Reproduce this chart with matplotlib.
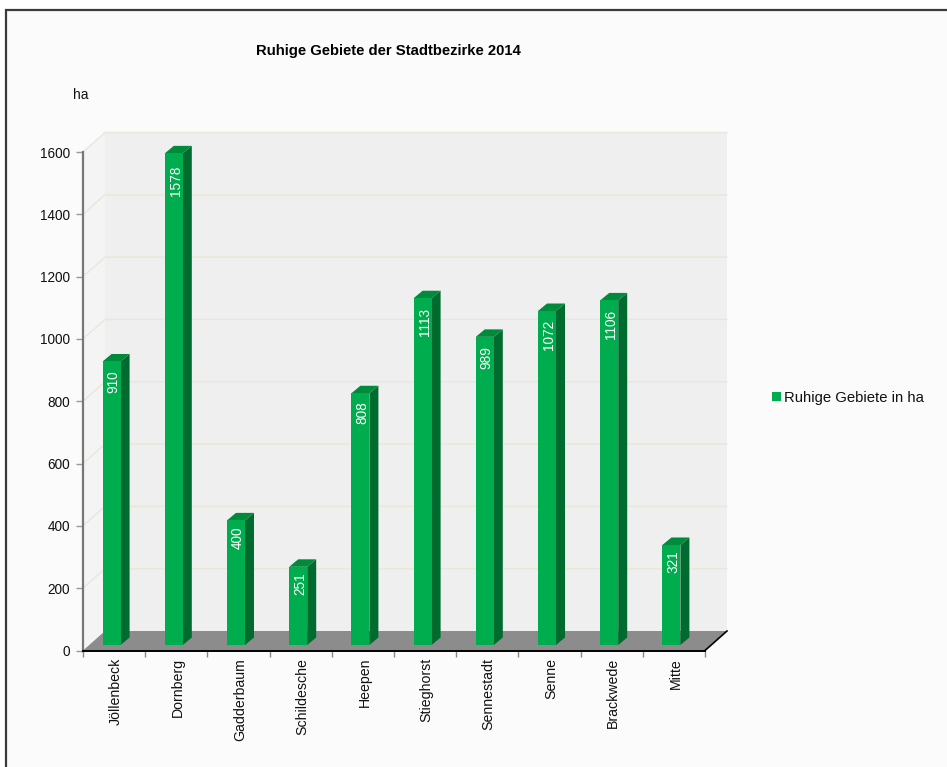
import matplotlib
matplotlib.use('Agg')
import matplotlib.pyplot as plt
from matplotlib.patches import Polygon, Patch, Rectangle

plt.rcParams['font.family'] = ['Liberation Sans', 'DejaVu Sans']

# data
districts = ['Jöllenbeck', 'Dornberg', 'Gadderbaum', 'Schildesche', 'Heepen',
             'Stieghorst', 'Sennestadt', 'Senne', 'Brackwede', 'Mitte']
hectares = [910, 1578, 400, 251, 808, 1113, 989, 1072, 1106, 321]
y_ticks = [0, 200, 400, 600, 800, 1000, 1200, 1400, 1600]
title_text = 'Ruhige Gebiete der Stadtbezirke 2014'
unit_text = 'ha'
legend_text = 'Ruhige Gebiete in ha'

W, H = 947, 767
fig = plt.figure(figsize=(W / 100, H / 100), dpi=100, facecolor='white')

# page frame
fig.add_artist(Rectangle((6 / W, -0.01), 1.02, 1 - 9.5 / H + 0.01, transform=fig.transFigure,
                         facecolor='#fbfbfb', edgecolor='#3a3a3a', linewidth=1.6, zorder=-1))

# front plane of the plot in pixels
left, right, top, bottom = 83, 705, 152, 650.5
ax = fig.add_axes([left / W, 1 - bottom / H, (right - left) / W, (bottom - top) / H])
ax.set_xlim(0, 10)
ax.set_ylim(0, 1600)
ax.patch.set_visible(False)

px_x = 10 / (right - left)   # data units per pixel
px_y = 1600 / (bottom - top)
DEPTH_X, DEPTH_Y = 22, 19.5  # full depth of the box in pixels


def proj(x, y, depth):
    # x,y at a given depth (0 front, 1 back) into data coordinates
    return x + depth * DEPTH_X * px_x, y + depth * DEPTH_Y * px_y


def poly(points, color, z):
    ax.add_patch(Polygon(points, closed=True, facecolor=color, edgecolor='none',
                         clip_on=False, zorder=z))


# walls and floor
wall = '#efefef'
poly([proj(0, 0, 1), proj(10, 0, 1), proj(10, 1600, 1), proj(0, 1600, 1)], wall, 1)
poly([proj(0, 0, 0), proj(0, 0, 1), proj(0, 1600, 1), proj(0, 1600, 0)], '#f4f4f4', 1)
poly([proj(0, 0, 0), proj(10, 0, 0), proj(10, 0, 1), proj(0, 0, 1)], '#8c8c8c', 2)

# gridlines on the back and side wall
grid = '#e9e7d8'
for v in y_ticks[1:]:
    xs, ys = zip(proj(0, v, 0), proj(0, v, 1), proj(10, v, 1))
    ax.plot(xs, ys, color=grid, lw=1, clip_on=False, zorder=1.5)

# edge of the floor on the right
xs, ys = zip(proj(10, 0, 0), proj(10, 0, 1))
ax.plot(xs, ys, color='black', lw=1.2, clip_on=False, zorder=3)

# bars
positions = [i + 0.5 for i in range(len(districts))]
bar_w = 18 * px_x
shift = -2.5 * px_x       # front face sits slightly left of the category centre
base = 5.5 * px_y
bar_dx, bar_dy = 9 * px_x, 7.5 * px_y
lefts = [p + shift - bar_w / 2 for p in positions]

ax.bar([p + shift for p in positions], hectares, width=bar_w, bottom=base,
       color='#00ad4e', zorder=5)
for x0, v in zip(lefts, hectares):
    t = base + v
    x1 = x0 + bar_w
    poly([(x1, base), (x1 + bar_dx, base + bar_dy), (x1 + bar_dx, t + bar_dy), (x1, t)], '#006b2e', 4)
    poly([(x0, t), (x0 + bar_dx, t + bar_dy), (x1 + bar_dx, t + bar_dy), (x1, t)], '#008a3c', 4)
    # value label hangs lower on the taller bars
    ax.text(x0 + bar_w / 2 + 2 * px_x, t - (4 + 0.005 * v) * px_y, str(v), rotation=90, ha='center',
            va='top', color='white', fontsize=9.8, zorder=6)

# axes
for s in ['top', 'right']:
    ax.spines[s].set_visible(False)
ax.spines['left'].set_color('#777777')
ax.spines['left'].set_linewidth(1.6)
ax.spines['bottom'].set_color('black')
ax.spines['bottom'].set_linewidth(1.4)
ax.spines['left'].set_zorder(3)
ax.spines['bottom'].set_zorder(3)

ax.set_yticks(y_ticks)
ax.set_yticklabels([str(v) for v in y_ticks], fontsize=9.8, color='#111111')
ax.tick_params(axis='y', length=5, width=1, color='#999999', pad=4.4)
ax.set_xticks(range(len(districts) + 1))
ax.set_xticklabels([])
ax.tick_params(axis='x', length=4, width=1, color='#888888')
for p, name in zip(positions, districts):
    ax.annotate(name, xy=(p, 0), xytext=(1.1, -5.3), textcoords='offset points', rotation=90,
                ha='center', va='top', fontsize=10.2, color='#111111', annotation_clip=False)

fig.text(388.5 / W, 1 - 51 / H, title_text, ha='center', va='center', fontsize=10.7,
         fontweight='bold', color='black')
fig.text(81 / W, 1 - 95 / H, unit_text, ha='center', va='center', fontsize=10, color='#111111')

fig.legend(handles=[Patch(facecolor='#00ad4e', label=legend_text)], loc='center left',
           bbox_to_anchor=(759 / W, 1 - 398 / H), frameon=False, fontsize=10.7,
           handlelength=0.6, handleheight=0.6, handletextpad=0.2, labelcolor='#111111')

fig.savefig('out.png', dpi=100, facecolor=fig.get_facecolor())
